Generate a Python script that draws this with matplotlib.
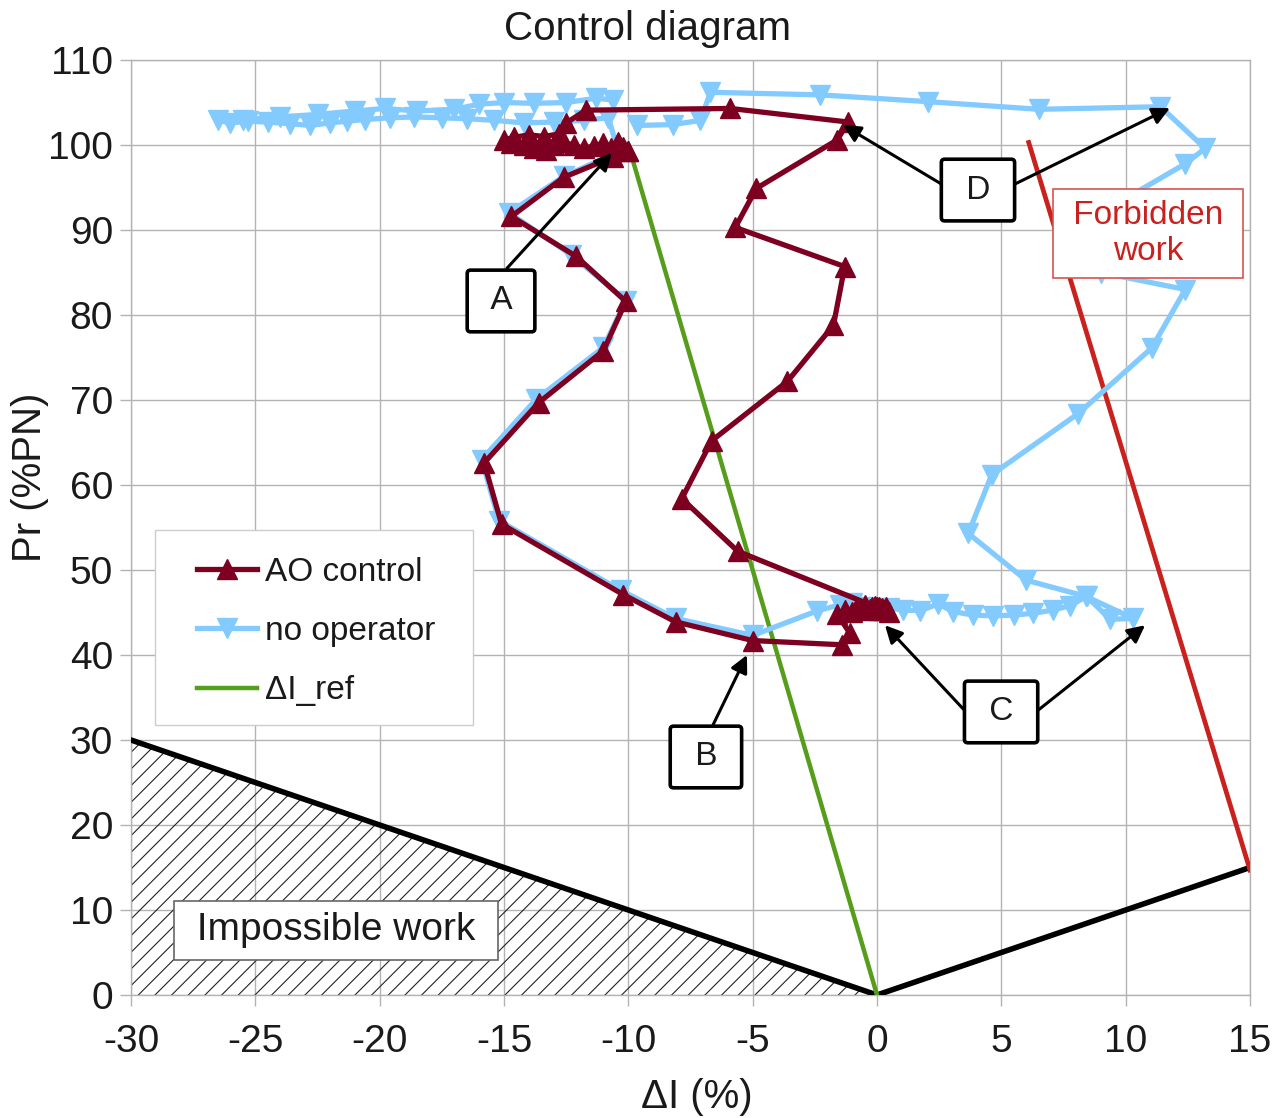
import matplotlib
matplotlib.use('Agg')
import matplotlib.pyplot as plt
from matplotlib.patches import Rectangle

plt.rcParams['font.family'] = ['Liberation Sans', 'DejaVu Sans']
plt.rcParams['axes.unicode_minus'] = False
plt.rcParams['hatch.linewidth'] = 0.8

# ---------------- data ----------------
ao_x = [-10.0, -10.6, -12.6, -14.7, -12.1, -10.1, -11.0, -13.6, -15.8, -15.1,
        -10.2, -8.1, -5.0, -1.4, -1.1, -1.6, -1.3, -1.0, -0.8, -0.5,
        -0.3, -0.1, 0.1, 0.3, 0.5, 0.35, 0.1, -0.2, 0.2, -0.4,
        0.0, -5.6, -7.85, -6.65, -3.6, -1.75, -1.3, -5.7, -4.85, -1.6,
        -1.15, -5.9, -11.7, -12.5, -12.8, -13.4, -14.0, -14.6, -15.0, -14.7,
        -14.2, -13.8, -13.3, -13.0, -12.6, -12.2, -11.8, -11.4, -11.0, -10.7,
        -10.4, -10.2, -10.0]
ao_y = [99.3, 98.6, 96.2, 91.6, 86.9, 81.6, 75.8, 69.7, 62.6, 55.4,
        47.1, 43.9, 41.7, 41.2, 42.6, 44.8, 45.3, 45.0, 45.6, 45.9,
        45.4, 45.8, 45.6, 45.3, 45.1, 45.6, 45.3, 45.6, 45.5, 45.3,
        45.6, 52.2, 58.4, 65.2, 72.2, 78.8, 85.7, 90.3, 94.9, 100.6,
        102.7, 104.3, 104.1, 102.6, 101.3, 101.0, 101.2, 100.9, 100.6, 100.2,
        100.0, 99.6, 99.4, 100.0, 100.3, 100.0, 99.6, 99.9, 100.2, 99.7,
        100.4, 99.8, 99.3]

no_x = [-10.6, -11.3, -12.5, -13.8, -15.0, -16.0, -17.0, -18.5, -19.8, -21.0,
        -22.5, -24.0, -25.5, -26.5, -26.0, -25.3, -24.5, -23.6, -22.8, -22.0,
        -21.3, -20.6, -19.6, -18.6, -17.5, -16.5, -15.4, -14.2, -13.0, -11.8,
        -10.8, -10.4, -12.6, -14.8, -12.3, -10.1, -11.0, -13.7, -15.9, -15.2,
        -10.3, -8.1, -5.0, -2.4, -1.5, -1.0, -0.5, 0.0, 0.5, 1.06,
        1.73, 2.46, 3.07, 3.87, 4.68, 5.49, 6.29, 7.09, 7.76, 8.43,
        9.37, 10.3, 8.4, 6.0, 3.67, 4.61, 8.09, 11.04, 12.4, 9.0,
        9.0, 12.4, 13.2, 11.4, 6.5, 2.05, -2.3, -6.7, -7.1, -8.2,
        -9.65]
no_y = [105.3, 105.5, 105.0, 104.9, 105.0, 104.8, 104.2, 104.0, 104.3, 104.0,
        103.6, 103.3, 103.0, 102.9, 102.6, 102.8, 102.7, 102.5, 102.3, 102.6,
        102.8, 103.0, 103.2, 103.3, 103.2, 103.1, 102.9, 102.6, 102.7, 102.9,
        103.2, 99.2, 96.3, 92.0, 87.1, 81.7, 76.2, 70.1, 63.0, 55.8,
        47.6, 44.3, 42.3, 45.2, 45.9, 46.1, 45.6, 45.4, 45.5, 45.3,
        45.2, 46.0, 45.1, 44.7, 44.6, 44.7, 44.9, 45.3, 45.8, 46.9,
        44.2, 44.3, 46.9, 48.8, 54.3, 61.2, 68.4, 76.1, 83.0, 85.0,
        92.0, 97.8, 99.6, 104.5, 104.2, 105.1, 105.9, 106.2, 102.9, 102.4,
        102.3]

ref_x = [-10, 0]
ref_y = [100, 0]
bound_x = [-30, 0, 15]
bound_y = [30, 0, 15]
forbid_x = [6.1, 15]
forbid_y = [100.3, 14.7]
impossible_x = [-30, -30, 0]
impossible_y = [0, 30, 0]

x_ticks = [-30, -25, -20, -15, -10, -5, 0, 5, 10, 15]
y_ticks = [0, 10, 20, 30, 40, 50, 60, 70, 80, 90, 100, 110]

# ---------------- figure ----------------
fig = plt.figure(figsize=(12.75, 11.18), dpi=100)
ax = fig.add_axes([0.10275, 0.11002, 0.87765, 0.83631])
ax.set_xlim(-30, 15)
ax.set_ylim(0, 110)
ax.set_xticks(x_ticks)
ax.set_yticks(y_ticks)
ax.grid(True, color='#b3b3b3', lw=1.0, zorder=0)
ax.set_axisbelow(True)
for s in ax.spines.values():
    s.set_color('#b3b3b3')
    s.set_linewidth(1.0)
ax.tick_params(axis='both', colors='#b3b3b3', labelcolor='#1a1a1a',
               labelsize=28, length=8, width=1.0)
ax.tick_params(axis='x', pad=13)
ax.tick_params(axis='y', pad=5)

# impossible region
ax.fill(impossible_x, impossible_y, facecolor='none', edgecolor='#222222',
        hatch='//', linewidth=0, zorder=1)
ax.plot(bound_x, bound_y, color='black', lw=4, zorder=3, solid_capstyle='round')
ax.plot(ref_x, ref_y, color='#579d1c', lw=3.2, zorder=3, label='\u0394I_ref')
ax.plot(forbid_x, forbid_y, color='#c9211e', lw=3.4, zorder=3)

ax.plot(no_x, no_y, color='#83caff', lw=3.8, marker='v', ms=14.5,
        zorder=4, label='no operator')
ax.plot(ao_x, ao_y, color='#7e0021', lw=3.8, marker='^', ms=14.5,
        zorder=5, label='AO control')

# arrows
arrows = [((-14.88, 85.5), (-10.66, 99.06)),
          ((-6.59, 31.8), (-5.23, 40.0)),
          ((3.58, 33.3), (0.32, 43.5)),
          ((6.39, 33.3), (10.78, 43.5)),
          ((2.65, 95.3), (-1.37, 102.35)),
          ((5.47, 95.3), (11.78, 104.35))]
for start, tip in arrows:
    ax.annotate('', xy=tip, xytext=start,
                arrowprops=dict(arrowstyle='-|>', color='black', lw=2.2,
                                mutation_scale=26, shrinkA=0, shrinkB=0),
                zorder=6)

box_kw = dict(boxstyle='round,pad=0.46,rounding_size=0.1', fc='white',
              ec='black', lw=2.6)
for lab, (bx, by) in {'A': (-15.12, 81.65), 'B': (-6.88, 28.0),
                      'C': (4.99, 33.3), 'D': (4.06, 94.7)}.items():
    ax.text(bx, by, ' ' + lab + ' ', fontsize=24, color='#1a1a1a',
            ha='center', va='center', bbox=box_kw, zorder=7)

ax.text(10.9, 89.6, ' Forbidden \nwork', fontsize=24, color='#c9211e',
        ha='center', va='center', linespacing=1.2,
        bbox=dict(boxstyle='square,pad=0.33', fc='white', ec='#d9534f', lw=1.2),
        zorder=7)
ax.text(-21.75, 7.6, ' Impossible work ', fontsize=28, color='#1a1a1a',
        ha='center', va='center',
        bbox=dict(boxstyle='square,pad=0.3', fc='white', ec='#666666', lw=1.2),
        zorder=7)

# legend (frame drawn separately to match the reference padding)
ax.add_patch(Rectangle((0.0214, 0.2888), 0.2842, 0.2086, transform=ax.transAxes,
                       facecolor='white', edgecolor='#cccccc', lw=1.0, zorder=8))
h, l = ax.get_legend_handles_labels()
order = [l.index('AO control'), l.index('no operator'), l.index('\u0394I_ref')]
leg = ax.legend([h[i] for i in order], [l[i] for i in order],
                loc='upper left', bbox_to_anchor=(0.059, 0.4689),
                fontsize=24, frameon=False, borderpad=0,
                labelspacing=0.85, handlelength=1.8, handletextpad=0.25,
                borderaxespad=0, numpoints=1)
leg.set_zorder(9)
for t in leg.get_texts():
    t.set_color('#1a1a1a')

# labels
ax.set_xlabel('\u0394I (%)', fontsize=29, color='#1a1a1a')
ax.xaxis.set_label_coords(0.506, -0.109)
ax.xaxis.label.set_verticalalignment('center')
ax.set_ylabel('Pr (%PN)', fontsize=29, color='#1a1a1a')
ax.yaxis.set_label_coords(-0.0903, 0.554)
ax.yaxis.label.set_verticalalignment('center')
fig.text(648 / 1275, 1 - 29 / 1118, 'Control diagram', fontsize=29,
         color='#1a1a1a', ha='center', va='center')

fig.savefig('out.png', dpi=100)
